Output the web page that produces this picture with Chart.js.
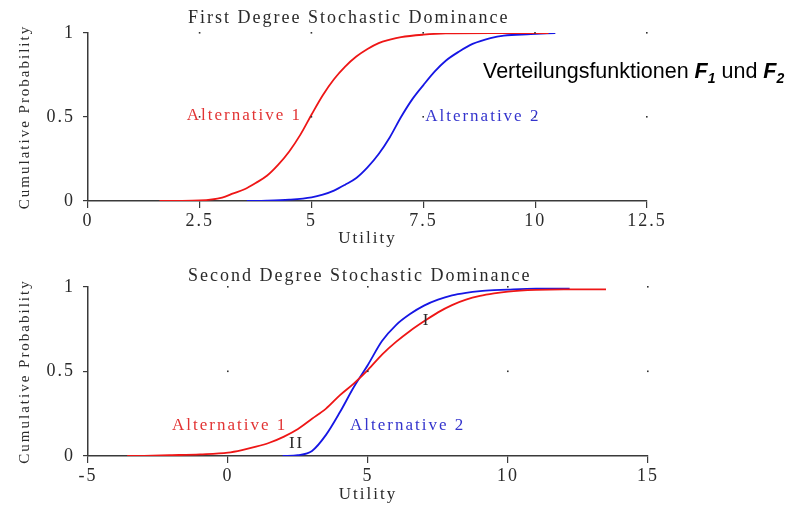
<!DOCTYPE html>
<html>
<head>
<meta charset="utf-8">
<script src="https://cdn.jsdelivr.net/npm/chart.js@4.4.1/dist/chart.umd.min.js"></script>
<style>
  body { margin: 0; background: #fff; width: 789px; height: 506px; position: relative; overflow: hidden; }
  canvas { position: absolute; left: 0; }
  #note { position: absolute; left: 483px; top: 61px; font: 21.5px "Liberation Sans", Arial, sans-serif; line-height: 20px; color: #000; white-space: nowrap; }
  #note b { font-style: italic; }
  #note sub { font-size: 14px; vertical-align: -5px; line-height: 0; }
</style>
</head>
<body>
<canvas id="first" width="789" height="253" style="top:0"></canvas>
<canvas id="second" width="789" height="253" style="top:253px"></canvas>
<div id="note">Verteilungsfunktionen <b>F<sub>1</sub></b> und <b>F<sub>2</sub></b></div>

<script>
// ---- first degree: utility / cumulative probability ----
const firstUtil1 = [1.6, 2, 2.5, 3, 3.25, 3.5, 3.75, 4, 4.25, 4.5, 4.75, 5, 5.25, 5.5, 5.75, 6, 6.25, 6.5, 6.75, 7, 7.5, 8, 9, 10.3];
const firstProb1 = [0, 0.001, 0.003, 0.02, 0.045, 0.07, 0.107, 0.15, 0.215, 0.295, 0.395, 0.515, 0.63, 0.725, 0.8, 0.86, 0.905, 0.94, 0.96, 0.975, 0.99, 0.998, 1, 1];
const firstUtil2 = [3.55, 4, 4.5, 5, 5.25, 5.5, 5.75, 6, 6.25, 6.5, 6.75, 7, 7.25, 7.5, 7.75, 8, 8.3, 8.6, 9, 9.3, 9.9, 10.45];
const firstProb2 = [0, 0.002, 0.008, 0.022, 0.038, 0.062, 0.097, 0.137, 0.2, 0.28, 0.38, 0.5, 0.605, 0.69, 0.77, 0.835, 0.89, 0.935, 0.97, 0.985, 0.993, 1];

// ---- second degree ----
const secondUtil1 = [-3.6, -3, -2, -1, 0, 0.5, 1, 1.5, 2, 2.5, 3, 3.5, 4, 4.5, 5, 5.5, 6, 6.5, 7, 7.5, 8, 8.5, 9, 9.5, 10, 11, 12, 13.5];
const secondProb1 = [0, 0.001, 0.005, 0.01, 0.02, 0.035, 0.055, 0.08, 0.115, 0.16, 0.22, 0.28, 0.36, 0.43, 0.51, 0.6, 0.675, 0.74, 0.797, 0.85, 0.893, 0.925, 0.947, 0.962, 0.973, 0.983, 0.986, 0.986];
const secondUtil2 = [1.95, 2.5, 3, 3.5, 4, 4.5, 5, 5.5, 6, 6.5, 7, 7.5, 8, 8.5, 9, 9.5, 10, 11, 12.2];
const secondProb2 = [0, 0.005, 0.03, 0.125, 0.26, 0.41, 0.54, 0.68, 0.775, 0.84, 0.89, 0.925, 0.95, 0.965, 0.975, 0.981, 0.985, 0.99, 0.99];

const firstTicks = [0, 2.5, 5, 7.5, 10, 12.5];
const secondTicks = [-5, 0, 5, 10, 15];
const probTicks = [0, 0.5, 1];

const RED = "rgb(238,22,22)";
const BLUE = "rgb(22,22,228)";
const RED_TXT = "rgb(226,52,52)";
const BLUE_TXT = "rgb(52,52,205)";
const INK = "#2a2a2a";
const AXIS = "#3a3a3a";
const SERIF = '"Liberation Serif", "Times New Roman", serif';

const pts = (xs, ys) => xs.map((x, i) => ({ x, y: ys[i] }));

// the original uses widely spaced serif text
const spacing = {
  id: "spacing",
  beforeLayout(chart) { chart.ctx.letterSpacing = "2px"; },
  beforeDraw(chart) { chart.ctx.letterSpacing = "2px"; }
};

// tiny dots where ticks meet, titles and curve labels
const extras = {
  id: "extras",
  afterDraw(chart, args, opts) {
    const { ctx, scales: { x, y } } = chart;
    ctx.save();
    ctx.fillStyle = "#333";
    opts.xt.slice(1).forEach(vx => {
      probTicks.slice(1).forEach(vy => {
        ctx.fillRect(x.getPixelForValue(vx) - 1, y.getPixelForValue(vy) - 1, 1.6, 1.6);
      });
    });
    ctx.font = "18px " + SERIF;
    ctx.fillStyle = INK;
    ctx.textAlign = "left";
    ctx.textBaseline = "alphabetic";
    ctx.fillText(opts.title, 188, opts.titleY);
    ctx.font = "17px " + SERIF;
    ctx.textBaseline = "middle";
    opts.notes.forEach(n => {
      ctx.fillStyle = n.color;
      ctx.textAlign = n.align;
      ctx.fillText(n.text, x.getPixelForValue(n.x), y.getPixelForValue(n.y));
    });
    ctx.restore();
  }
};

function makeChart(id, o) {
  const grid = { drawOnChartArea: false, color: AXIS, lineWidth: 1.2 };
  const tickFont = { family: SERIF, size: 18 };
  return new Chart(document.getElementById(id), {
    type: "line",
    data: {
      datasets: [
        { label: "Alternative 1", data: pts(o.u1, o.p1), borderColor: RED },
        { label: "Alternative 2", data: pts(o.u2, o.p2), borderColor: BLUE }
      ]
    },
    options: {
      responsive: false,
      animation: false,
      layout: { padding: { left: 0, top: o.top, right: o.right, bottom: 0 } },
      elements: {
        point: { radius: 0 },
        line: { borderWidth: 1.8, cubicInterpolationMode: "monotone" }
      },
      plugins: {
        legend: { display: false },
        tooltip: { enabled: false },
        extras: { xt: o.xTicks, title: o.title, titleY: o.titleY, notes: o.notes }
      },
      scales: {
        x: {
          type: "linear",
          min: o.xTicks[0],
          max: o.xTicks[o.xTicks.length - 1],
          afterBuildTicks: s => { s.ticks = o.xTicks.map(v => ({ value: v })); },
          afterFit: s => { s.height = o.xh; },
          grid: { ...grid, tickLength: 7 },
          border: { color: AXIS, width: 1.5 },
          ticks: { color: INK, font: tickFont, padding: 2, maxRotation: 0, callback: v => String(v) },
          title: { display: true, text: "Utility", color: INK, font: { family: SERIF, size: 17 }, padding: { top: 0, bottom: o.utilPad } }
        },
        y: {
          min: 0,
          max: 1,
          afterBuildTicks: s => { s.ticks = probTicks.map(v => ({ value: v })); },
          afterFit: s => { s.width = 88; },
          grid: { ...grid, tickLength: 5 },
          border: { color: AXIS, width: 1.5 },
          ticks: { color: INK, font: tickFont, padding: 8, callback: v => String(v) },
          title: { display: true, text: "Cumulative Probability", color: INK, font: { family: SERIF, size: 15 }, padding: { top: 16, bottom: 0 } }
        }
      }
    },
    plugins: [spacing, extras]
  });
}

makeChart("first", {
  u1: firstUtil1, p1: firstProb1, u2: firstUtil2, p2: firstProb2,
  xTicks: firstTicks, top: 33, right: 142, xh: 52, utilPad: 4,
  title: "First Degree Stochastic Dominance", titleY: 23,
  notes: [
    { text: "Alternative 1", x: 2.21, y: 0.51, color: RED_TXT, align: "left" },
    { text: "Alternative 2", x: 7.54, y: 0.503, color: BLUE_TXT, align: "left" }
  ]
});

makeChart("second", {
  u1: secondUtil1, p1: secondProb1, u2: secondUtil2, p2: secondProb2,
  xTicks: secondTicks, top: 34, right: 141, xh: 50, utilPad: 1,
  title: "Second Degree Stochastic Dominance", titleY: 28,
  notes: [
    { text: "Alternative 1", x: -2.0, y: 0.183, color: RED_TXT, align: "left" },
    { text: "Alternative 2", x: 4.36, y: 0.183, color: BLUE_TXT, align: "left" },
    { text: "II", x: 2.45, y: 0.074, color: INK, align: "center" },
    { text: "I", x: 7.09, y: 0.8, color: INK, align: "center" }
  ]
});
</script>
</body>
</html>
